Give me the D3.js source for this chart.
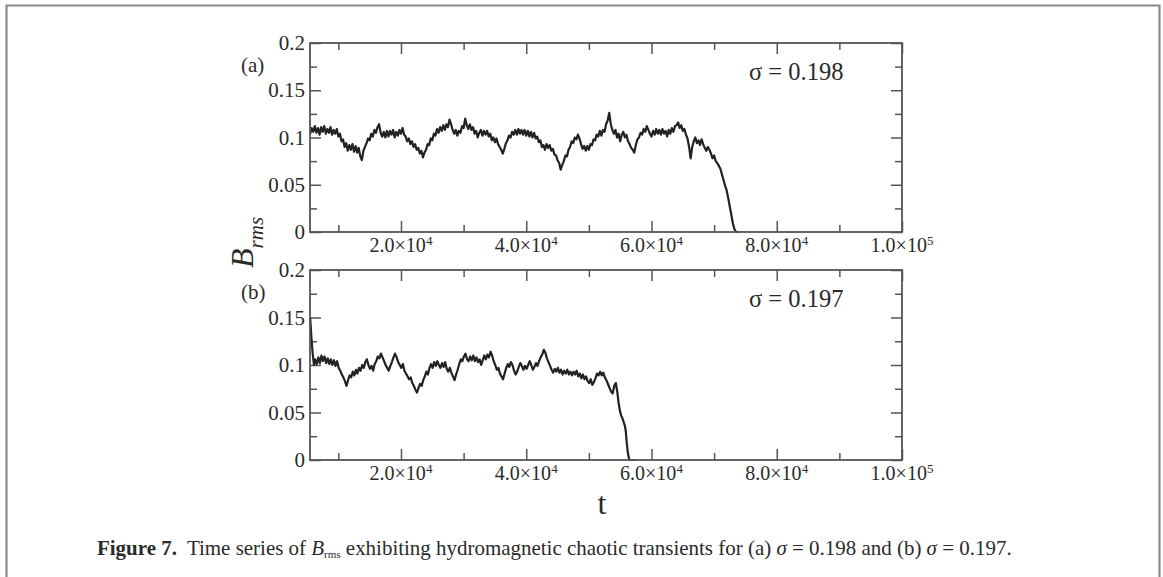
<!DOCTYPE html>
<html><head><meta charset="utf-8">
<script src="https://cdn.jsdelivr.net/npm/d3@7"></script>
<style>
body{margin:0;background:#fff}
svg{display:block}
text{font-family:"Liberation Serif","Times New Roman",serif;fill:#2a2a2a}
</style>
</head><body>
<svg id="c" width="1163" height="577"></svg>
<script>
// t in units of 1e3, B_rms values
const seriesA = [
[5.5,.104],[5.75,.110],[6.0,.106],[6.25,.112],[6.5,.105],[6.75,.110],[7.0,.103],[7.25,.111],[7.5,.106],[7.75,.112],
[8.0,.104],[8.25,.109],[8.5,.105],[8.75,.111],[9.0,.103],[9.25,.108],[9.5,.104],[9.75,.109],[10.0,.101],[10.25,.104],
[10.5,.096],[10.75,.098],[11.0,.090],[11.25,.094],[11.5,.086],[11.75,.092],[12.0,.087],[12.25,.093],[12.5,.085],[12.75,.091],
[13.0,.084],[13.25,.089],[13.5,.080],[13.75,.076],[14.0,.086],[14.25,.090],[14.5,.094],[14.75,.099],[15.0,.097],[15.25,.104],
[15.5,.101],[15.75,.108],[16.0,.105],[16.25,.111],[16.5,.114],[16.75,.105],[17.0,.101],[17.25,.106],[17.5,.100],[17.75,.107],
[18.0,.101],[18.25,.107],[18.5,.103],[18.75,.108],[19.0,.100],[19.25,.106],[19.5,.102],[19.75,.108],[20.0,.104],[20.25,.110],
[20.5,.103],[20.75,.101],[21.0,.096],[21.25,.099],[21.5,.093],[21.75,.096],[22.0,.090],[22.25,.093],[22.5,.087],[22.75,.089],
[23.0,.083],[23.25,.086],[23.5,.079],[23.75,.084],[24.0,.087],[24.25,.093],[24.5,.092],[24.75,.099],[25.0,.097],[25.25,.104],
[25.5,.102],[25.75,.109],[26.0,.105],[26.25,.111],[26.5,.107],[26.75,.113],[27.0,.108],[27.25,.114],[27.5,.111],[27.75,.119],
[28.0,.114],[28.25,.108],[28.5,.104],[28.75,.108],[29.0,.102],[29.25,.107],[29.5,.105],[29.75,.112],[30.0,.110],[30.25,.120],
[30.5,.113],[30.75,.109],[31.0,.114],[31.25,.108],[31.5,.111],[31.75,.104],[32.0,.107],[32.25,.100],[32.5,.105],[32.75,.108],
[33.0,.102],[33.25,.107],[33.5,.103],[33.75,.107],[34.0,.101],[34.25,.104],[34.5,.097],[34.75,.100],[35.0,.095],[35.25,.099],
[35.5,.093],[35.75,.090],[36.0,.087],[36.25,.083],[36.5,.088],[36.75,.094],[37.0,.097],[37.25,.102],[37.5,.100],[37.75,.106],
[38.0,.103],[38.25,.108],[38.5,.103],[38.75,.109],[39.0,.104],[39.25,.108],[39.5,.103],[39.75,.108],[40.0,.102],[40.25,.107],
[40.5,.101],[40.75,.106],[41.0,.100],[41.25,.105],[41.5,.099],[41.75,.101],[42.0,.095],[42.25,.097],[42.5,.090],[42.75,.092],
[43.0,.087],[43.25,.093],[43.5,.089],[43.75,.092],[44.0,.086],[44.25,.088],[44.5,.082],[44.75,.081],[45.0,.076],[45.25,.073],
[45.5,.066],[45.75,.071],[46.0,.075],[46.25,.081],[46.5,.080],[46.75,.087],[47.0,.090],[47.25,.096],[47.5,.094],[47.75,.100],
[48.0,.098],[48.25,.103],[48.5,.099],[48.75,.093],[49.0,.088],[49.25,.091],[49.5,.086],[49.75,.091],[50.0,.087],[50.25,.093],
[50.5,.092],[50.75,.098],[51.0,.097],[51.25,.103],[51.5,.101],[51.75,.107],[52.0,.102],[52.25,.108],[52.5,.106],[52.75,.114],
[53.0,.118],[53.25,.126],[53.5,.114],[53.75,.108],[54.0,.104],[54.25,.108],[54.5,.100],[54.75,.104],[55.0,.096],[55.25,.103],
[55.5,.106],[55.75,.100],[56.0,.103],[56.25,.096],[56.5,.093],[56.75,.089],[57.0,.087],[57.25,.084],[57.5,.092],[57.75,.098],
[58.0,.100],[58.25,.105],[58.5,.103],[58.75,.109],[59.0,.106],[59.25,.112],[59.5,.108],[59.75,.104],[60.0,.101],[60.25,.107],
[60.5,.103],[60.75,.109],[61.0,.104],[61.25,.108],[61.5,.103],[61.75,.109],[62.0,.104],[62.25,.107],[62.5,.101],[62.75,.108],
[63.0,.104],[63.25,.110],[63.5,.106],[63.75,.112],[64.0,.113],[64.25,.116],[64.5,.110],[64.75,.113],[65.0,.107],[65.25,.109],
[65.5,.103],[65.75,.099],[66.0,.090],[66.25,.078],[66.5,.090],[66.75,.096],[67.0,.100],[67.25,.094],[67.5,.097],[67.75,.092],
[68.0,.098],[68.25,.093],[68.5,.089],[68.75,.086],[69.0,.090],[69.25,.087],[69.5,.083],[69.75,.078],[70.0,.081],[70.25,.075],
[70.5,.073],[70.75,.070],[71.0,.067],[71.25,.061],[71.5,.055],[71.75,.049],[72.0,.044],[72.25,.036],[72.5,.027],[72.75,.018],
[73.0,.009],[73.25,.003],[73.5,.000],[74.0,.000]
];
const seriesB = [
[5.5,.150],[5.7,.128],[5.9,.112],[6.1,.100],[6.3,.106],[6.55,.101],[6.8,.108],[7.05,.102],[7.3,.110],[7.55,.104],
[7.8,.109],[8.05,.102],[8.3,.107],[8.55,.101],[8.8,.106],[9.05,.100],[9.3,.105],[9.55,.099],[9.8,.104],[10.05,.097],
[10.3,.094],[10.55,.090],[10.8,.087],[11.05,.083],[11.3,.078],[11.55,.084],[11.8,.089],[12.05,.087],[12.3,.093],[12.55,.089],
[12.8,.095],[13.05,.091],[13.3,.097],[13.55,.094],[13.8,.100],[14.05,.097],[14.3,.103],[14.55,.106],[14.8,.100],[15.05,.096],
[15.3,.099],[15.55,.094],[15.8,.101],[16.05,.104],[16.3,.109],[16.55,.107],[16.8,.112],[17.05,.108],[17.3,.104],[17.55,.100],
[17.8,.097],[18.05,.094],[18.3,.099],[18.55,.103],[18.8,.108],[19.05,.112],[19.3,.108],[19.55,.103],[19.8,.100],[20.05,.097],
[20.3,.101],[20.55,.094],[20.8,.091],[21.05,.088],[21.3,.085],[21.55,.087],[21.8,.081],[22.05,.078],[22.3,.074],[22.55,.071],
[22.8,.076],[23.05,.080],[23.3,.078],[23.55,.084],[23.8,.088],[24.05,.093],[24.3,.090],[24.55,.097],[24.8,.101],[25.05,.097],
[25.3,.103],[25.55,.099],[25.8,.104],[26.05,.100],[26.3,.097],[26.55,.102],[26.8,.098],[27.05,.103],[27.3,.096],[27.55,.093],
[27.8,.097],[28.05,.092],[28.3,.088],[28.55,.084],[28.8,.090],[29.05,.095],[29.3,.101],[29.55,.106],[29.8,.104],[30.05,.109],
[30.3,.112],[30.55,.106],[30.8,.104],[31.05,.109],[31.3,.105],[31.55,.110],[31.8,.104],[32.05,.108],[32.3,.103],[32.55,.106],
[32.8,.100],[33.05,.105],[33.3,.110],[33.55,.106],[33.8,.111],[34.05,.108],[34.3,.114],[34.55,.110],[34.8,.104],[35.05,.100],
[35.3,.095],[35.55,.097],[35.8,.091],[36.05,.088],[36.3,.085],[36.55,.091],[36.8,.097],[37.05,.101],[37.3,.098],[37.55,.103],
[37.8,.100],[38.05,.094],[38.3,.090],[38.55,.093],[38.8,.098],[39.05,.102],[39.3,.099],[39.55,.095],[39.8,.099],[40.05,.096],
[40.3,.100],[40.55,.104],[40.8,.100],[41.05,.095],[41.3,.098],[41.55,.102],[41.8,.099],[42.05,.104],[42.3,.108],[42.55,.111],
[42.8,.116],[43.05,.113],[43.3,.107],[43.55,.103],[43.8,.099],[44.05,.095],[44.3,.092],[44.55,.096],[44.8,.093],[45.05,.097],
[45.3,.092],[45.55,.095],[45.8,.090],[46.05,.094],[46.3,.091],[46.55,.095],[46.8,.090],[47.05,.093],[47.3,.089],[47.55,.093],
[47.8,.090],[48.05,.094],[48.3,.088],[48.55,.091],[48.8,.086],[49.05,.090],[49.3,.085],[49.55,.088],[49.8,.083],[50.05,.081],
[50.3,.085],[50.55,.079],[50.8,.082],[51.05,.086],[51.3,.091],[51.55,.089],[51.8,.093],[52.05,.089],[52.3,.092],[52.55,.087],
[52.8,.084],[53.05,.080],[53.3,.076],[53.55,.072],[53.8,.070],[54.05,.078],[54.3,.081],[54.55,.071],[54.75,.060],[54.95,.052],
[55.15,.047],[55.35,.044],[55.55,.040],[55.75,.036],[55.9,.030],[56.05,.018],[56.2,.009],[56.35,.003],[56.5,.000],[57.5,.000]
];
const xMajorTicks = [20000, 40000, 60000, 80000, 100000];
const xMinorTicks = [10000, 30000, 50000, 70000, 90000];
const xTickMantissa = ["2.0", "4.0", "6.0", "8.0", "1.0"];
const xTickExponent = ["4", "4", "4", "4", "5"];
const yMajorTicks = [0, 0.05, 0.1, 0.15, 0.2];
const yMinorTicks = [0.025, 0.075, 0.125, 0.175];
const yTickLabels = ["0", "0.05", "0.1", "0.15", "0.2"];
const panelLabels = ["(a)", "(b)"];
const sigmaValues = ["0.198", "0.197"];
const xDomain = [5470, 100000];
const yDomain = [0, 0.2];

const svg = d3.select("#c");
const axisColor = "#555";

// outer frame
svg.append("path")
  .attr("d", "M6.5,590 V5.5 H1159.5 V590")
  .attr("fill", "none").attr("stroke", "#8a8a8a").attr("stroke-width", 2.2);

const panels = [
  {series: seriesA, top: 43, bottom: 232},
  {series: seriesB, top: 270, bottom: 460}
];
const left = 310, right = 902;

panels.forEach((p, i) => {
  const x = d3.scaleLinear().domain(xDomain).range([left, right]);
  const y = d3.scaleLinear().domain(yDomain).range([p.bottom, p.top]);
  const g = svg.append("g");

  const styleAxis = sel => {
    sel.select(".domain").remove();
    sel.selectAll(".tick line").attr("stroke", axisColor).attr("stroke-width", 1.5);
    sel.selectAll(".tick text").remove();
  };
  const addAxis = (gen, tx, ty, ticks, size) => {
    g.append("g").attr("transform", `translate(${tx},${ty})`)
      .call(gen.tickValues(ticks).tickSize(-size).tickFormat(""))
      .call(styleAxis);
  };
  [[xMajorTicks, 11], [xMinorTicks, 7]].forEach(([t, s]) => {
    addAxis(d3.axisBottom(x), 0, p.bottom, t, s);
    addAxis(d3.axisTop(x), 0, p.top, t, s);
  });
  [[yMajorTicks, 11], [yMinorTicks, 7]].forEach(([t, s]) => {
    addAxis(d3.axisLeft(y), left, 0, t, s);
    addAxis(d3.axisRight(y), right, 0, t, s);
  });

  // data line
  g.append("path")
    .datum(p.series)
    .attr("d", d3.line().x(d => x(d[0] * 1000)).y(d => y(d[1])))
    .attr("fill", "none").attr("stroke", "#222").attr("stroke-width", 2.2)
    .attr("stroke-linejoin", "round");

  // frame
  g.append("rect")
    .attr("x", left).attr("y", p.top).attr("width", right - left).attr("height", p.bottom - p.top)
    .attr("fill", "none").attr("stroke", axisColor).attr("stroke-width", 1.8);

  // y tick labels
  yMajorTicks.forEach((v, k) => {
    g.append("text").attr("x", 305).attr("y", y(v) + 7)
      .attr("text-anchor", "end").attr("font-size", 21).text(yTickLabels[k]);
  });
  // x tick labels
  xMajorTicks.forEach((v, k) => {
    const t = g.append("text").attr("x", x(v)).attr("y", p.bottom + 20)
      .attr("text-anchor", "middle").attr("font-size", 20);
    t.append("tspan").text(xTickMantissa[k] + "×10");
    t.append("tspan").attr("font-size", 13).attr("dy", -7).text(xTickExponent[k]);
  });
  // panel label
  g.append("text").attr("x", 241).attr("y", p.top + 29).attr("font-size", 21).text(panelLabels[i]);
  // sigma label
  g.append("text").attr("x", 749).attr("y", p.top + 37).attr("font-size", 24.5)
    .text("σ = " + sigmaValues[i]);
});

// y-axis title
const yt = svg.append("text").attr("transform", "translate(253,268) rotate(-90)")
  .attr("font-size", 32).attr("font-style", "italic");
yt.append("tspan").text("B");
yt.append("tspan").attr("font-size", 21).attr("dy", 10).text("rms");

// x-axis title
svg.append("text").attr("x", 602).attr("y", 514).attr("text-anchor", "middle")
  .attr("font-size", 32).text("t");

// caption
const cap = svg.append("text").attr("x", 97).attr("y", 555).attr("font-size", 16);
cap.append("tspan").attr("font-weight", "bold").text("Figure 7.");
cap.append("tspan").attr("dx", 10).text("Time series of ");
cap.append("tspan").attr("font-style", "italic").text("B");
cap.append("tspan").attr("font-size", 11).attr("dy", 3).text("rms");
cap.append("tspan").attr("dy", -3).text(" exhibiting hydromagnetic chaotic transients for (a) ");
cap.append("tspan").attr("font-style", "italic").text("σ");
cap.append("tspan").text(" = 0.198 and (b) ");
cap.append("tspan").attr("font-style", "italic").text("σ");
cap.append("tspan").text(" = 0.197.");
// fit caption width to reference span
const w = cap.node().getComputedTextLength();
const target = 910;
cap.attr("font-size", 16 * target / w);
</script>
</body></html>
